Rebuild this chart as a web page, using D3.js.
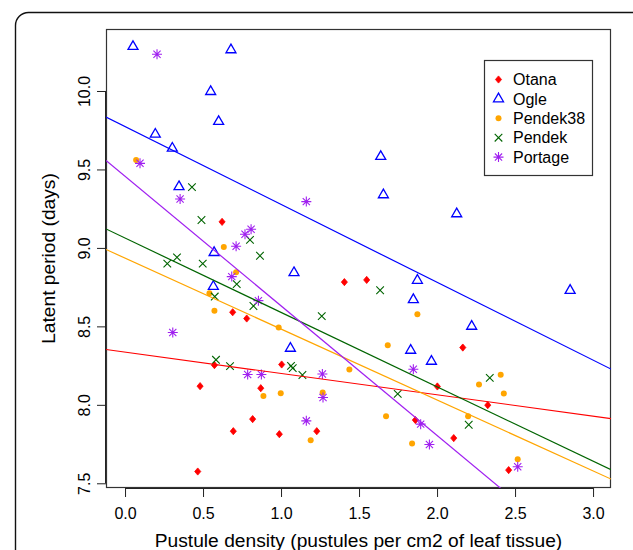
<!DOCTYPE html>
<html>
<head>
<meta charset="utf-8">
<script src="https://cdn.jsdelivr.net/npm/d3@7/dist/d3.min.js"></script>
<style>
  html, body { margin: 0; padding: 0; background: #fff; }
  svg { display: block; }
  text { font-family: "Liberation Sans", Arial, Helvetica, sans-serif; fill: #000; }
</style>
</head>
<body>
<script>
// ---- data ----
const seriesNames = ["Otana", "Ogle", "Pendek38", "Pendek", "Portage"];
const seriesColors = ["#FF0000", "#0000FF", "#FFA500", "#006400", "#A020F0"];
const seriesShapes = ["diamond", "triangle", "circle", "cross", "asterisk"];

const otanaX = [0.622, 1.406, 0.690, 0.780, 1.004, 0.573, 0.481, 0.870, 0.818, 0.694, 0.989, 1.229, 0.466, 1.549, 2.165, 2.002, 2.325, 1.861, 2.107, 2.459];
const otanaY = [9.166, 8.782, 8.590, 8.550, 8.257, 8.253, 8.119, 8.106, 7.909, 7.832, 7.813, 7.832, 7.575, 8.796, 8.365, 8.117, 7.998, 7.903, 7.788, 7.584];

const ogleX = [0.051, 0.679, 0.549, 0.600, 0.194, 0.303, 0.346, 0.571, 1.083, 0.566, 1.060, 1.639, 1.656, 2.126, 1.874, 2.853, 1.848, 2.222, 1.831, 1.964];
const ogleY = [10.283, 10.262, 9.996, 9.805, 9.724, 9.635, 9.390, 8.970, 8.842, 8.754, 8.360, 9.582, 9.338, 9.217, 8.793, 8.729, 8.670, 8.500, 8.347, 8.277];

const pendek38X = [0.071, 0.633, 0.712, 0.541, 0.573, 0.985, 1.438, 0.887, 0.998, 1.267, 1.190, 1.874, 1.684, 2.408, 2.269, 2.428, 1.673, 2.199, 1.840, 2.517];
const pendek38Y = [9.560, 9.006, 8.845, 8.711, 8.599, 8.493, 8.225, 8.057, 8.074, 8.079, 7.775, 8.578, 8.380, 8.191, 8.129, 8.072, 7.928, 7.928, 7.754, 7.654];

const pendekX = [0.429, 0.490, 0.801, 0.333, 0.865, 0.271, 0.498, 0.716, 0.575, 0.823, 1.261, 0.583, 0.673, 1.064, 1.075, 1.137, 1.635, 2.338, 1.748, 2.203];
const pendekY = [9.387, 9.178, 9.051, 8.940, 8.950, 8.900, 8.900, 8.769, 8.690, 8.630, 8.565, 8.287, 8.247, 8.248, 8.234, 8.190, 8.730, 8.172, 8.070, 7.873];

const portageX = [0.205, 0.096, 0.353, 1.162, 0.808, 0.769, 0.712, 0.684, 0.855, 0.306, 0.786, 0.874, 1.265, 1.269, 1.162, 1.848, 1.895, 1.951, 2.517];
const portageY = [10.234, 9.539, 9.312, 9.295, 9.119, 9.087, 9.011, 8.817, 8.664, 8.461, 8.193, 8.193, 8.196, 8.047, 7.898, 8.227, 7.877, 7.747, 7.605];

// fitted lines (intercept, slope) per series
const lineIntercepts = [8.336, 9.773, 8.935, 9.063, 9.457];
const lineSlopes = [-0.136, -0.496, -0.452, -0.474, -0.826];

const xTicks = [0.0, 0.5, 1.0, 1.5, 2.0, 2.5, 3.0];
const yTicks = [7.5, 8.0, 8.5, 9.0, 9.5, 10.0];
const xTitle = "Pustule density (pustules per cm2 of leaf tissue)";
const yTitle = "Latent period (days)";

const seriesX = [otanaX, ogleX, pendek38X, pendekX, portageX];
const seriesY = [otanaY, ogleY, pendek38Y, pendekY, portageY];

// ---- layout ----
const W = 633, H = 550;
const plot = { left: 106, right: 611, top: 29, bottom: 488 };

const x = d3.scaleLinear().domain([-0.122, 3.115]).range([plot.left, plot.right]);
const y = d3.scaleLinear().domain([7.47, 10.395]).range([plot.bottom, plot.top]);

const svg = d3.select("body").append("svg").attr("width", W).attr("height", H);

// outer rounded frame (cropped)
svg.append("rect")
  .attr("x", 15.5).attr("y", 12.5).attr("width", 700).attr("height", 700)
  .attr("rx", 13).attr("ry", 13)
  .attr("fill", "none").attr("stroke", "#111").attr("stroke-width", 1.4);

// clip for plot region
svg.append("defs").append("clipPath").attr("id", "plotclip")
  .append("rect").attr("x", plot.left).attr("y", plot.top)
  .attr("width", plot.right - plot.left).attr("height", plot.bottom - plot.top);

// axes
const xAxis = d3.axisBottom(x).tickValues(xTicks).tickFormat(d3.format(".1f")).tickSize(9).tickSizeOuter(0);
const gx = svg.append("g").attr("transform", `translate(0,${plot.bottom})`).call(xAxis);
gx.select(".domain").attr("d", `M${x(xTicks[0])},0.5H${x(xTicks[xTicks.length-1])}`).attr("stroke", "#222");
gx.selectAll(".tick line").attr("stroke", "#222");
gx.selectAll(".tick text").attr("font-size", 16).attr("dy", null).attr("y", 31)
  .style("font-family", "'Liberation Sans', Arial, sans-serif");

const yAxis = d3.axisLeft(y).tickValues(yTicks).tickFormat(d3.format(".1f")).tickSize(9).tickSizeOuter(0);
const gy = svg.append("g").attr("transform", `translate(${plot.left},0)`).call(yAxis);
gy.select(".domain").attr("d", `M-0.5,${y(yTicks[0])}V${y(yTicks[yTicks.length-1])}`).attr("stroke", "#222");
gy.selectAll(".tick line").attr("stroke", "#222");
gy.selectAll(".tick text").attr("font-size", 16)
  .attr("x", null).attr("dy", null)
  .attr("transform", "translate(-16,0) rotate(-90)")
  .attr("text-anchor", "middle")
  .style("font-family", "'Liberation Sans', Arial, sans-serif");

// plot box
svg.append("rect")
  .attr("x", plot.left + 0.5).attr("y", plot.top + 0.5)
  .attr("width", plot.right - plot.left - 1).attr("height", plot.bottom - plot.top - 1)
  .attr("fill", "none").attr("stroke", "#333").attr("stroke-width", 1.2);

// axis titles
svg.append("text").attr("x", (plot.left + plot.right) / 2).attr("y", 547)
  .attr("text-anchor", "middle").attr("font-size", 19.2).text(xTitle);
svg.append("text").attr("transform", `translate(55,${(plot.top + plot.bottom) / 2}) rotate(-90)`)
  .attr("text-anchor", "middle").attr("font-size", 19.2).text(yTitle);

// symbol drawing
function drawSymbol(g, shape, color, cx, cy) {
  if (shape === "diamond") {
    const r = 3.6;
    g.append("path").attr("d", `M${cx},${cy - r}L${cx + r * 0.85},${cy}L${cx},${cy + r}L${cx - r * 0.85},${cy}Z`)
      .attr("fill", color).attr("stroke", color).attr("stroke-width", 0.8);
  } else if (shape === "triangle") {
    const s = 10, h = s * Math.sqrt(3) / 2;
    g.append("path").attr("d", `M${cx},${cy - 2 * h / 3}L${cx + s / 2},${cy + h / 3}L${cx - s / 2},${cy + h / 3}Z`)
      .attr("fill", "none").attr("stroke", color).attr("stroke-width", 1.3);
  } else if (shape === "circle") {
    g.append("circle").attr("cx", cx).attr("cy", cy).attr("r", 3)
      .attr("fill", color).attr("stroke", "none");
  } else if (shape === "cross") {
    const r = 3.8;
    g.append("path").attr("d", `M${cx - r},${cy - r}L${cx + r},${cy + r}M${cx - r},${cy + r}L${cx + r},${cy - r}`)
      .attr("stroke", color).attr("stroke-width", 1.1).attr("fill", "none");
  } else if (shape === "asterisk") {
    const r = 5, d = 3.6;
    g.append("path").attr("d",
      `M${cx - r},${cy}L${cx + r},${cy}M${cx},${cy - r}L${cx},${cy + r}` +
      `M${cx - d},${cy - d}L${cx + d},${cy + d}M${cx - d},${cy + d}L${cx + d},${cy - d}`)
      .attr("stroke", color).attr("stroke-width", 1.1).attr("fill", "none");
  }
}

// points
const gp = svg.append("g").attr("clip-path", "url(#plotclip)");
seriesNames.forEach((name, i) => {
  const g = gp.append("g").attr("class", "series-" + name);
  seriesX[i].forEach((xv, j) => {
    drawSymbol(g, seriesShapes[i], seriesColors[i], x(xv), y(seriesY[i][j]));
  });
});

// fitted lines
const gl = svg.append("g").attr("clip-path", "url(#plotclip)");
const [x0, x1] = x.domain();
seriesNames.forEach((name, i) => {
  gl.append("line")
    .attr("x1", x(x0)).attr("y1", y(lineIntercepts[i] + lineSlopes[i] * x0))
    .attr("x2", x(x1)).attr("y2", y(lineIntercepts[i] + lineSlopes[i] * x1))
    .attr("stroke", seriesColors[i]).attr("stroke-width", 1.2);
});

// legend
const lg = svg.append("g");
lg.append("rect").attr("x", 484.5).attr("y", 60.5).attr("width", 108).attr("height", 115)
  .attr("fill", "#fff").attr("stroke", "#333").attr("stroke-width", 1.2);
seriesNames.forEach((name, i) => {
  const cy = 79.5 + i * 19.4;
  drawSymbol(lg, seriesShapes[i], seriesColors[i], 498.5, cy);
  lg.append("text").attr("x", 513).attr("y", cy).attr("dy", "0.36em")
    .attr("font-size", 16).text(name);
});
</script>
</body>
</html>
